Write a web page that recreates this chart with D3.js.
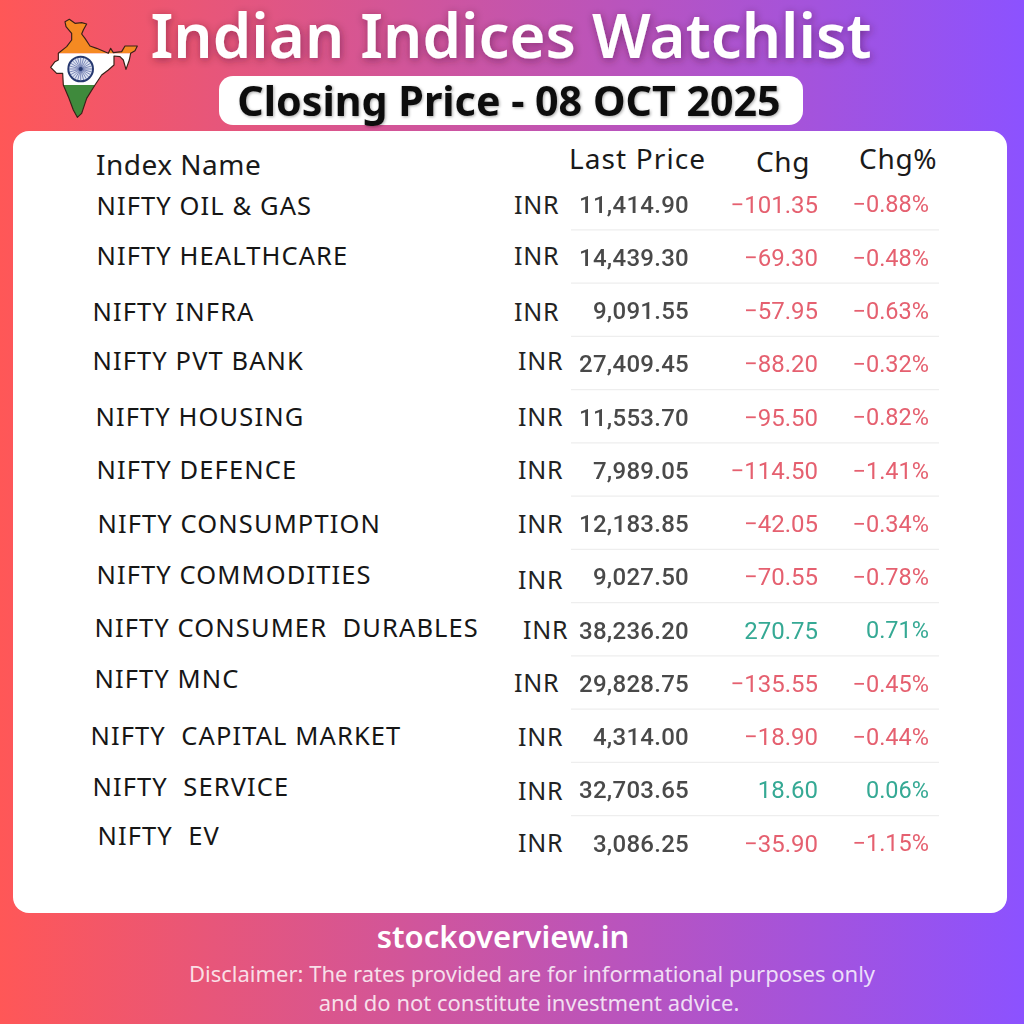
<!DOCTYPE html>
<html><head><meta charset="utf-8">
<script src="https://cdn.jsdelivr.net/npm/d3@7"></script>
<style>html,body{margin:0;padding:0;background:#fff}svg{display:block}text{font-family:"Noto Sans",sans-serif}</style>
</head><body><div id="c"></div>
<script>
const names=["NIFTY OIL & GAS","NIFTY HEALTHCARE","NIFTY INFRA","NIFTY PVT BANK","NIFTY HOUSING","NIFTY DEFENCE","NIFTY CONSUMPTION","NIFTY COMMODITIES","NIFTY CONSUMER  DURABLES","NIFTY MNC","NIFTY  CAPITAL MARKET","NIFTY  SERVICE","NIFTY  EV"];
const prices=[11414.90,14439.30,9091.55,27409.45,11553.70,7989.05,12183.85,9027.50,38236.20,29828.75,4314.00,32703.65,3086.25];
const changes=[-101.35,-69.30,-57.95,-88.20,-95.50,-114.50,-42.05,-70.55,270.75,-135.55,-18.90,18.60,-35.90];
const changePct=[-0.88,-0.48,-0.63,-0.32,-0.82,-1.41,-0.34,-0.78,0.71,-0.45,-0.44,0.06,-1.15];
const currency="INR";
const headers=["Index Name","Last Price","Chg","Chg%"];

// hand-placed label offsets of the reference layout
const nameX=[96.5,96.5,92.5,92.5,95.5,96.5,97.5,96.5,94.5,94.5,90.5,92.5,97.5];
const nameDy=[2,-1,1,-3,0,0,0,-2,-2,-4,-1,-3,-7];
const inrX=[514,514,514,518,518,518,518,518,523,514,518,518,518];
const inrDy=[1,-1,1,-3,0,0,0,3,0,0,0,1,0];

const W=1024,H=1024;
const svg=d3.select("#c").append("svg").attr("width",W).attr("height",H);
const defs=svg.append("defs");
const g=defs.append("linearGradient").attr("id","bg");
g.append("stop").attr("offset","0%").attr("stop-color","#ff5757");
g.append("stop").attr("offset","100%").attr("stop-color","#8c52ff");
const sh=defs.append("filter").attr("id","ts").attr("x","-5%").attr("y","-20%").attr("width","110%").attr("height","140%");
sh.append("feDropShadow").attr("dx",1).attr("dy",2).attr("stdDeviation",4).attr("flood-color","#3a1020").attr("flood-opacity",.45);
const sh2=defs.append("filter").attr("id","ts2").attr("x","-5%").attr("y","-20%").attr("width","110%").attr("height","140%");
sh2.append("feDropShadow").attr("dx",1).attr("dy",1).attr("stdDeviation",1.5).attr("flood-color","#000").attr("flood-opacity",.35);
defs.append("filter").attr("id","soft").attr("x","-5%").attr("y","-20%").attr("width","110%").attr("height","140%").append("feGaussianBlur").attr("stdDeviation",.45);

svg.append("rect").attr("width",W).attr("height",H).attr("fill","url(#bg)");

// India map badge
const outline=[[75,35],[88,28],[105,40],[125,38],[140,42],[130,60],[125,72],[135,85],[150,108],[170,115],[205,130],[212,115],[220,128],[245,125],[255,108],[292,108],[285,122],[272,130],[268,150],[258,178],[250,150],[240,140],[222,138],[222,165],[205,180],[185,195],[165,225],[140,265],[125,310],[112,322],[100,300],[85,260],[70,225],[68,190],[50,190],[32,172],[45,155],[55,150],[55,130],[80,110],[95,90],[95,70],[78,50]];
const outlinePath=d3.line().curve(d3.curveLinearClosed)(outline);
defs.append("clipPath").attr("id","mapclip").append("path").attr("d",outlinePath);
const map=svg.append("g").attr("transform","translate(40,10) scale(0.3333)");
const mapClip=map.append("g").attr("clip-path","url(#mapclip)");
[["#f58a22",0,130],["#fff",130,95],["#3f8a3c",225,110]].forEach(([c,y,h])=>mapClip.append("rect").attr("x",0).attr("y",y).attr("width",310).attr("height",h).attr("fill",c));
map.append("path").attr("d",outlinePath).attr("fill","none").attr("stroke","#3a2018").attr("stroke-width",3.5).attr("stroke-linejoin","round");
map.append("circle").attr("cx",122).attr("cy",177).attr("r",37).attr("fill","#dfe4f2").attr("stroke","#26386f").attr("stroke-width",6);
map.selectAll("line.spoke").data(d3.range(12)).join("line").attr("x1",d=>122-34*Math.cos(d*Math.PI/12)).attr("x2",d=>122+34*Math.cos(d*Math.PI/12)).attr("y1",d=>177-34*Math.sin(d*Math.PI/12)).attr("y2",d=>177+34*Math.sin(d*Math.PI/12)).attr("stroke","#4a5a9c").attr("stroke-width",2);
map.append("circle").attr("cx",122).attr("cy",177).attr("r",6).attr("fill","#26386f");

// Title
svg.append("text").attr("x",511).attr("y",58).attr("text-anchor","middle").attr("font-size",61.7).attr("font-weight",600).attr("fill","#fff").attr("filter","url(#ts)").text("Indian Indices Watchlist");
svg.append("rect").attr("x",219).attr("y",76).attr("width",584).attr("height",49).attr("rx",14).attr("fill","#fff");
svg.append("text").attr("x",509).attr("y",116).attr("text-anchor","middle").attr("font-size",41.2).attr("font-weight",700).attr("fill","#111").attr("filter","url(#ts2)").text("Closing Price - 08 OCT 2025");

// Panel
svg.append("rect").attr("x",13).attr("y",131).attr("width",994).attr("height",782).attr("rx",16).attr("fill","#fff");

// Headers
const hdr=[[96,175,headers[0],.5],[569,169,headers[1],1.1],[756,172,headers[2],.6],[859,169,headers[3],.7]];
svg.selectAll("text.h").data(hdr).join("text").attr("class","h").attr("x",d=>d[0]).attr("y",d=>d[1]).attr("font-size",28).attr("letter-spacing",d=>d[3]).attr("fill","#1a1a1a").text(d=>d[2]);

// Rows
const idx=d3.range(names.length);
const y=d3.scaleLinear().domain([0,names.length-1]).range([204,843]);
const sep=idx.slice(0,-1);
svg.selectAll("line.sep").data(sep).join("line").attr("x1",571).attr("x2",939).attr("y1",i=>y(i)+25.8).attr("y2",i=>y(i)+25.8).attr("stroke","#eeeeee").attr("stroke-width",1.3);

const UP="#35a994",DOWN="#e5606f";
svg.selectAll("text.n").data(idx).join("text").attr("class","n").attr("x",i=>nameX[i]).attr("y",i=>y(i)+nameDy[i]).attr("dy","0.36em").attr("font-size",25.5).attr("letter-spacing",1.1).attr("fill","#161616").style("white-space","pre").text(i=>names[i]);
svg.selectAll("text.c").data(idx).join("text").attr("class","c").attr("x",i=>inrX[i]).attr("y",i=>y(i)+inrDy[i]).attr("dy","0.36em").attr("font-size",25).attr("letter-spacing",.7).attr("fill","#222").text(currency);

const rowFont='Roboto,sans-serif';
const fP=d3.format(",.2f"),fC=d3.format(".2f");
const nums=svg.append("g").attr("filter","url(#soft)");
nums.selectAll("text.p").data(idx).join("text").attr("class","p").attr("x",689).attr("y",i=>y(i)).attr("dy","0.36em").attr("text-anchor","end").style("font-family",rowFont).attr("font-size",24).attr("letter-spacing",.27).attr("font-weight",500).attr("fill","#4a4a4a").text(i=>fP(prices[i]));
nums.selectAll("text.d").data(idx).join("text").attr("class","d").attr("x",818).attr("y",i=>y(i)).attr("dy","0.36em").attr("text-anchor","end").style("font-family",rowFont).attr("font-size",24).attr("fill",i=>changes[i]<0?DOWN:UP).text(i=>fC(changes[i]));
nums.selectAll("text.q").data(idx).join("text").attr("class","q").attr("x",929).attr("y",i=>y(i)).attr("dy","0.36em").attr("text-anchor","end").style("font-family",rowFont).attr("font-size",23.5).attr("fill",i=>changePct[i]<0?DOWN:UP).text(i=>fC(changePct[i])+"%");

// Footer
svg.append("text").attr("x",503).attr("y",948).attr("text-anchor","middle").attr("font-size",31).attr("font-weight",600).attr("fill","#fff").text("stockoverview.in");
svg.append("text").attr("x",532).attr("y",982).attr("text-anchor","middle").attr("font-size",22).attr("fill","#fff").attr("fill-opacity",.82).text("Disclaimer: The rates provided are for informational purposes only");
svg.append("text").attr("x",529).attr("y",1011).attr("text-anchor","middle").attr("font-size",22).attr("fill","#fff").attr("fill-opacity",.82).text("and do not constitute investment advice.");
</script></body></html>
